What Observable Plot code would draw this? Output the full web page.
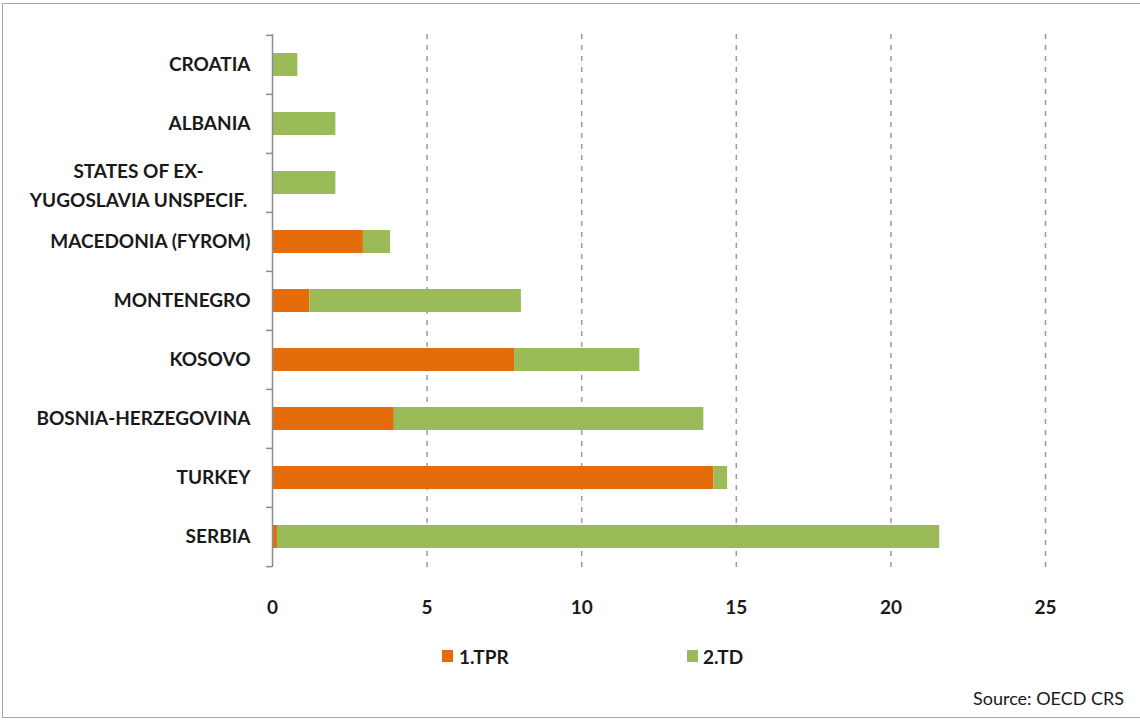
<!DOCTYPE html>
<html>
<head>
<meta charset="utf-8">
<script src="https://cdn.jsdelivr.net/npm/d3@7"></script>
<script src="https://cdn.jsdelivr.net/npm/@observablehq/plot@0.6"></script>
<style>
  html, body { margin: 0; padding: 0; background: #fff; }
  body { width: 1140px; height: 720px; position: relative; overflow: hidden; font-family: Lato, "Open Sans", sans-serif; }
  #frame { position: absolute; left: 2px; top: 3px; width: 1160px; height: 715px; border: 1.5px solid #a6a6a6; box-sizing: border-box; pointer-events: none; }
  #chart { position: absolute; left: 0; top: 0; }
  #legend { position: absolute; top: 646px; left: 0; width: 1140px; font: bold 19px Lato, sans-serif; color: #1a1a1a; }
  .sw { position: absolute; width: 11px; height: 12px; top: 4px; }
  .lt { position: absolute; top: -1px; }
  #source { position: absolute; left: 973px; top: 687px; font: 18px Lato, sans-serif; color: #1a1a1a; }
</style>
</head>
<body>
<div id="chart"></div>
<div id="legend">
  <div class="sw" style="left:442px;background:#E46C0A"></div><div class="lt" style="left:459px">1.TPR</div>
  <div class="sw" style="left:687px;background:#9BBB59"></div><div class="lt" style="left:703px">2.TD</div>
</div>
<div id="source">Source: OECD CRS</div>
<div id="frame"></div>
<script>
const countries = ["CROATIA", "ALBANIA", "STATES OF EX-\nYUGOSLAVIA UNSPECIF.", "MACEDONIA (FYROM)", "MONTENEGRO", "KOSOVO", "BOSNIA-HERZEGOVINA", "TURKEY", "SERBIA"];
const tpr = [0, 0, 0, 2.94, 1.21, 7.83, 3.94, 14.28, 0.16];
const td  = [0.82, 2.05, 2.05, 0.88, 6.84, 4.05, 10.01, 0.44, 21.42];
const seriesNames = ["1.TPR", "2.TD"];
const seriesColors = ["#E46C0A", "#9BBB59"];
const xTicks = [0, 5, 10, 15, 20, 25];

const rows = [];
countries.forEach((c, i) => {
  rows.push({country: c, series: seriesNames[0], value: tpr[i]});
  rows.push({country: c, series: seriesNames[1], value: td[i]});
});

const special = countries[2];
const normal = countries.filter(c => c !== special);
const step = 533 / 9;
const FS = 19;

const chart = Plot.plot({
  width: 1140,
  height: 620,
  marginTop: 34,
  marginBottom: 53,
  marginLeft: 272,
  marginRight: 95,
  style: {fontFamily: "Lato, sans-serif", color: "#1a1a1a", background: "transparent"},
  x: {domain: [0, 25], axis: null},
  y: {domain: countries, paddingInner: 0.61, paddingOuter: 0.305, axis: null},
  color: {domain: seriesNames, range: seriesColors},
  marks: [
    Plot.gridX(xTicks.slice(1), {stroke: "#999", strokeOpacity: 1, strokeWidth: 1.5, strokeDasharray: "5,6"}),
    Plot.barX(rows, {y: "country", x: "value", fill: "series"}),
    Plot.ruleX([0], {stroke: "#8c8c8c", strokeWidth: 1.5}),
    // tick marks at band boundaries
    Plot.axisY(countries, {anchor: "left", tickSize: 6, dy: -step / 2, text: null, label: null, stroke: "#8c8c8c", strokeWidth: 1.5}),
    Plot.axisY([countries[countries.length - 1]], {anchor: "left", tickSize: 6, dy: step / 2, text: null, label: null, stroke: "#8c8c8c", strokeWidth: 1.5}),
    // labels
    Plot.axisY(normal, {anchor: "left", tickSize: 0, tickPadding: 22, fontSize: FS, fontWeight: "bold", label: null}),
    Plot.text([special], {y: d => d, text: d => d, frameAnchor: "left", dx: -134, textAnchor: "middle", lineHeight: 1.55, fontSize: FS, fontWeight: "bold", fill: "#1a1a1a"}),
    Plot.axisX(xTicks, {anchor: "bottom", tickSize: 0, tickPadding: 33, fontSize: FS, fontWeight: "bold", label: null})
  ]
});
document.getElementById("chart").appendChild(chart);
</script>
</body>
</html>
